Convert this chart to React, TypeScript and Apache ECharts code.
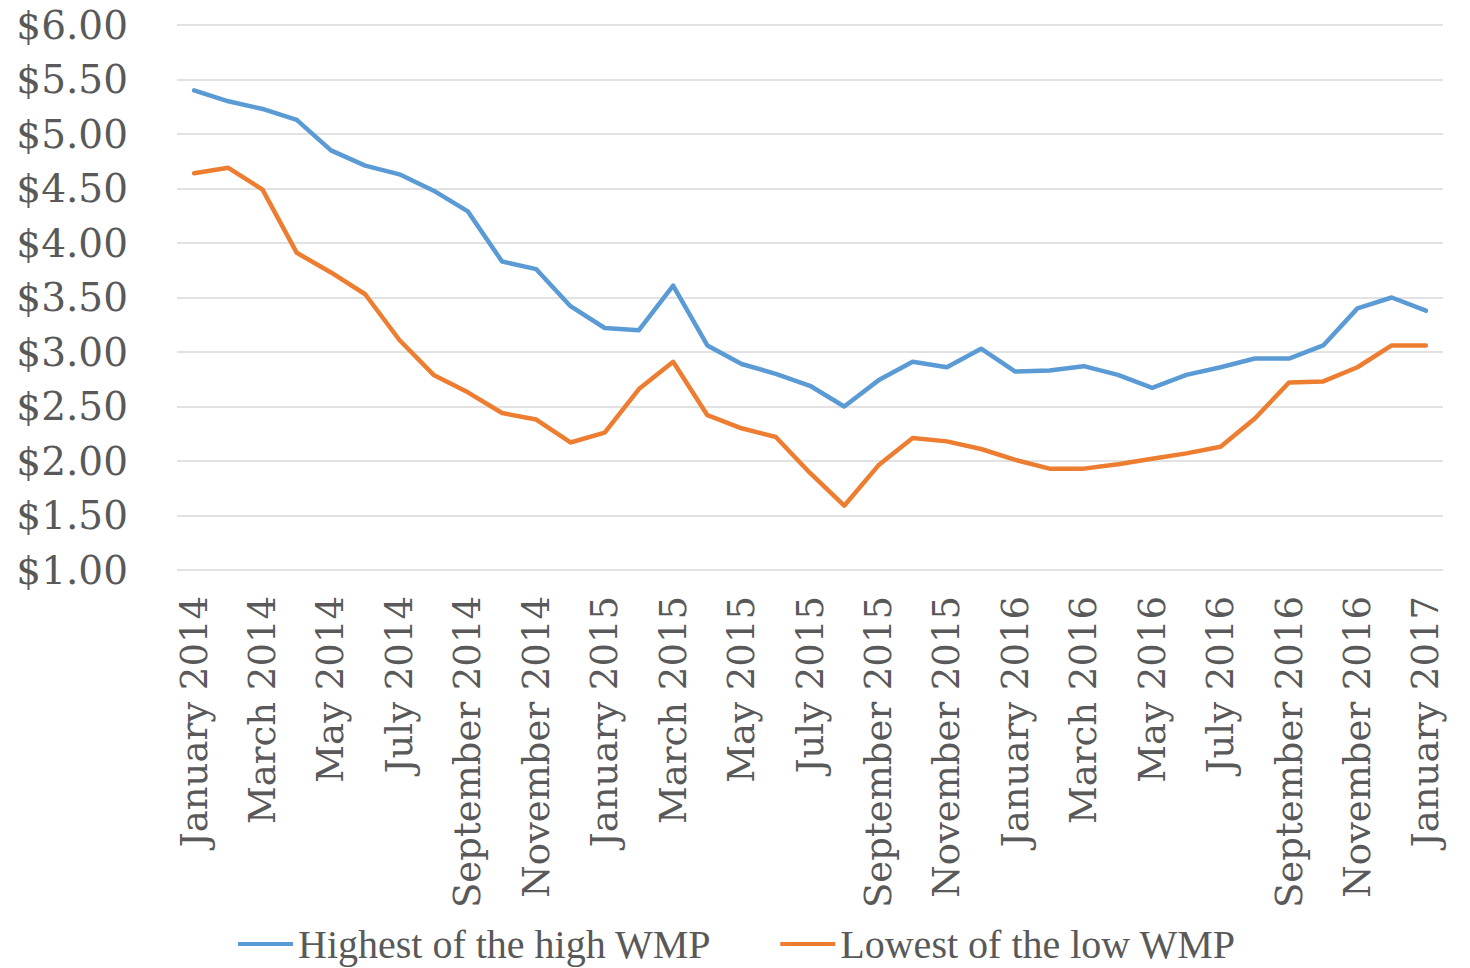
import React, { useEffect, useRef } from "react";
import * as echarts from "echarts";

const months = [
  "January", "February", "March", "April", "May", "June",
  "July", "August", "September", "October", "November", "December",
];
const categories: string[] = [];
for (const y of [2014, 2015, 2016]) for (const m of months) categories.push(`${m} ${y}`);
categories.push("January 2017");

const highestHigh = [
  5.40, 5.30, 5.23, 5.13, 4.85, 4.71, 4.63, 4.48, 4.29, 3.83, 3.76, 3.42,
  3.22, 3.20, 3.61, 3.06, 2.89, 2.80, 2.69, 2.50, 2.74, 2.91, 2.86, 3.03,
  2.82, 2.83, 2.87, 2.79, 2.67, 2.79, 2.86, 2.94, 2.94, 3.06, 3.40, 3.50,
  3.38,
];
const lowestLow = [
  4.64, 4.69, 4.49, 3.91, 3.73, 3.53, 3.11, 2.79, 2.63, 2.44, 2.38, 2.17,
  2.26, 2.66, 2.91, 2.42, 2.30, 2.22, 1.89, 1.59, 1.96, 2.21, 2.18, 2.11,
  2.01, 1.93, 1.93, 1.97, 2.02, 2.07, 2.13, 2.39, 2.72, 2.73, 2.86, 3.06,
  3.06,
];

const AXIS_FONT = "DejaVu Serif";
const LEGEND_FONT = "Liberation Serif";

export default function App() {
  const ref = useRef<HTMLDivElement>(null);
  useEffect(() => {
    if (!ref.current) return;
    const chart = echarts.init(ref.current, undefined, { renderer: "svg" });
    chart.setOption({
      animation: false,
      grid: { left: 177, right: 27, top: 25, bottom: 398, containLabel: false },
      legend: {
        top: 922,
        left: 238,
        padding: 0,
        itemWidth: 55,
        itemHeight: 4,
        itemGap: 69,
        icon: "rect",
        textStyle: { fontFamily: LEGEND_FONT, fontSize: 40, lineHeight: 44, color: "#595959" },
        data: ["Highest of the high WMP", "Lowest of the low WMP"],
      },
      xAxis: {
        type: "category",
        data: categories,
        boundaryGap: true,
        axisLine: { show: false },
        axisTick: { show: false },
        axisLabel: {
          interval: 1,
          rotate: 90,
          margin: 26,
          fontFamily: AXIS_FONT,
          fontSize: 37,
          color: "#595959",
        },
      },
      yAxis: {
        type: "value",
        min: 1,
        max: 6,
        interval: 0.5,
        axisLine: { show: false },
        axisTick: { show: false },
        splitLine: { lineStyle: { color: "#d9d9d9", width: 1.5 } },
        axisLabel: {
          margin: 49,
          fontFamily: AXIS_FONT,
          fontSize: 39,
          color: "#595959",
          formatter: (v: number) => "$" + v.toFixed(2),
        },
      },
      series: [
        {
          name: "Highest of the high WMP",
          type: "line",
          data: highestHigh,
          symbol: "none",
          lineStyle: { color: "#5b9bd5", width: 4.5, cap: "round", join: "round" },
          itemStyle: { color: "#5b9bd5" },
        },
        {
          name: "Lowest of the low WMP",
          type: "line",
          data: lowestLow,
          symbol: "none",
          lineStyle: { color: "#ed7d31", width: 4.5, cap: "round", join: "round" },
          itemStyle: { color: "#ed7d31" },
        },
      ],
    });
    return () => chart.dispose();
  }, []);
  return <div ref={ref} style={{ width: 1470, height: 968, position: "absolute", left: 0, top: 0 }} />;
}
